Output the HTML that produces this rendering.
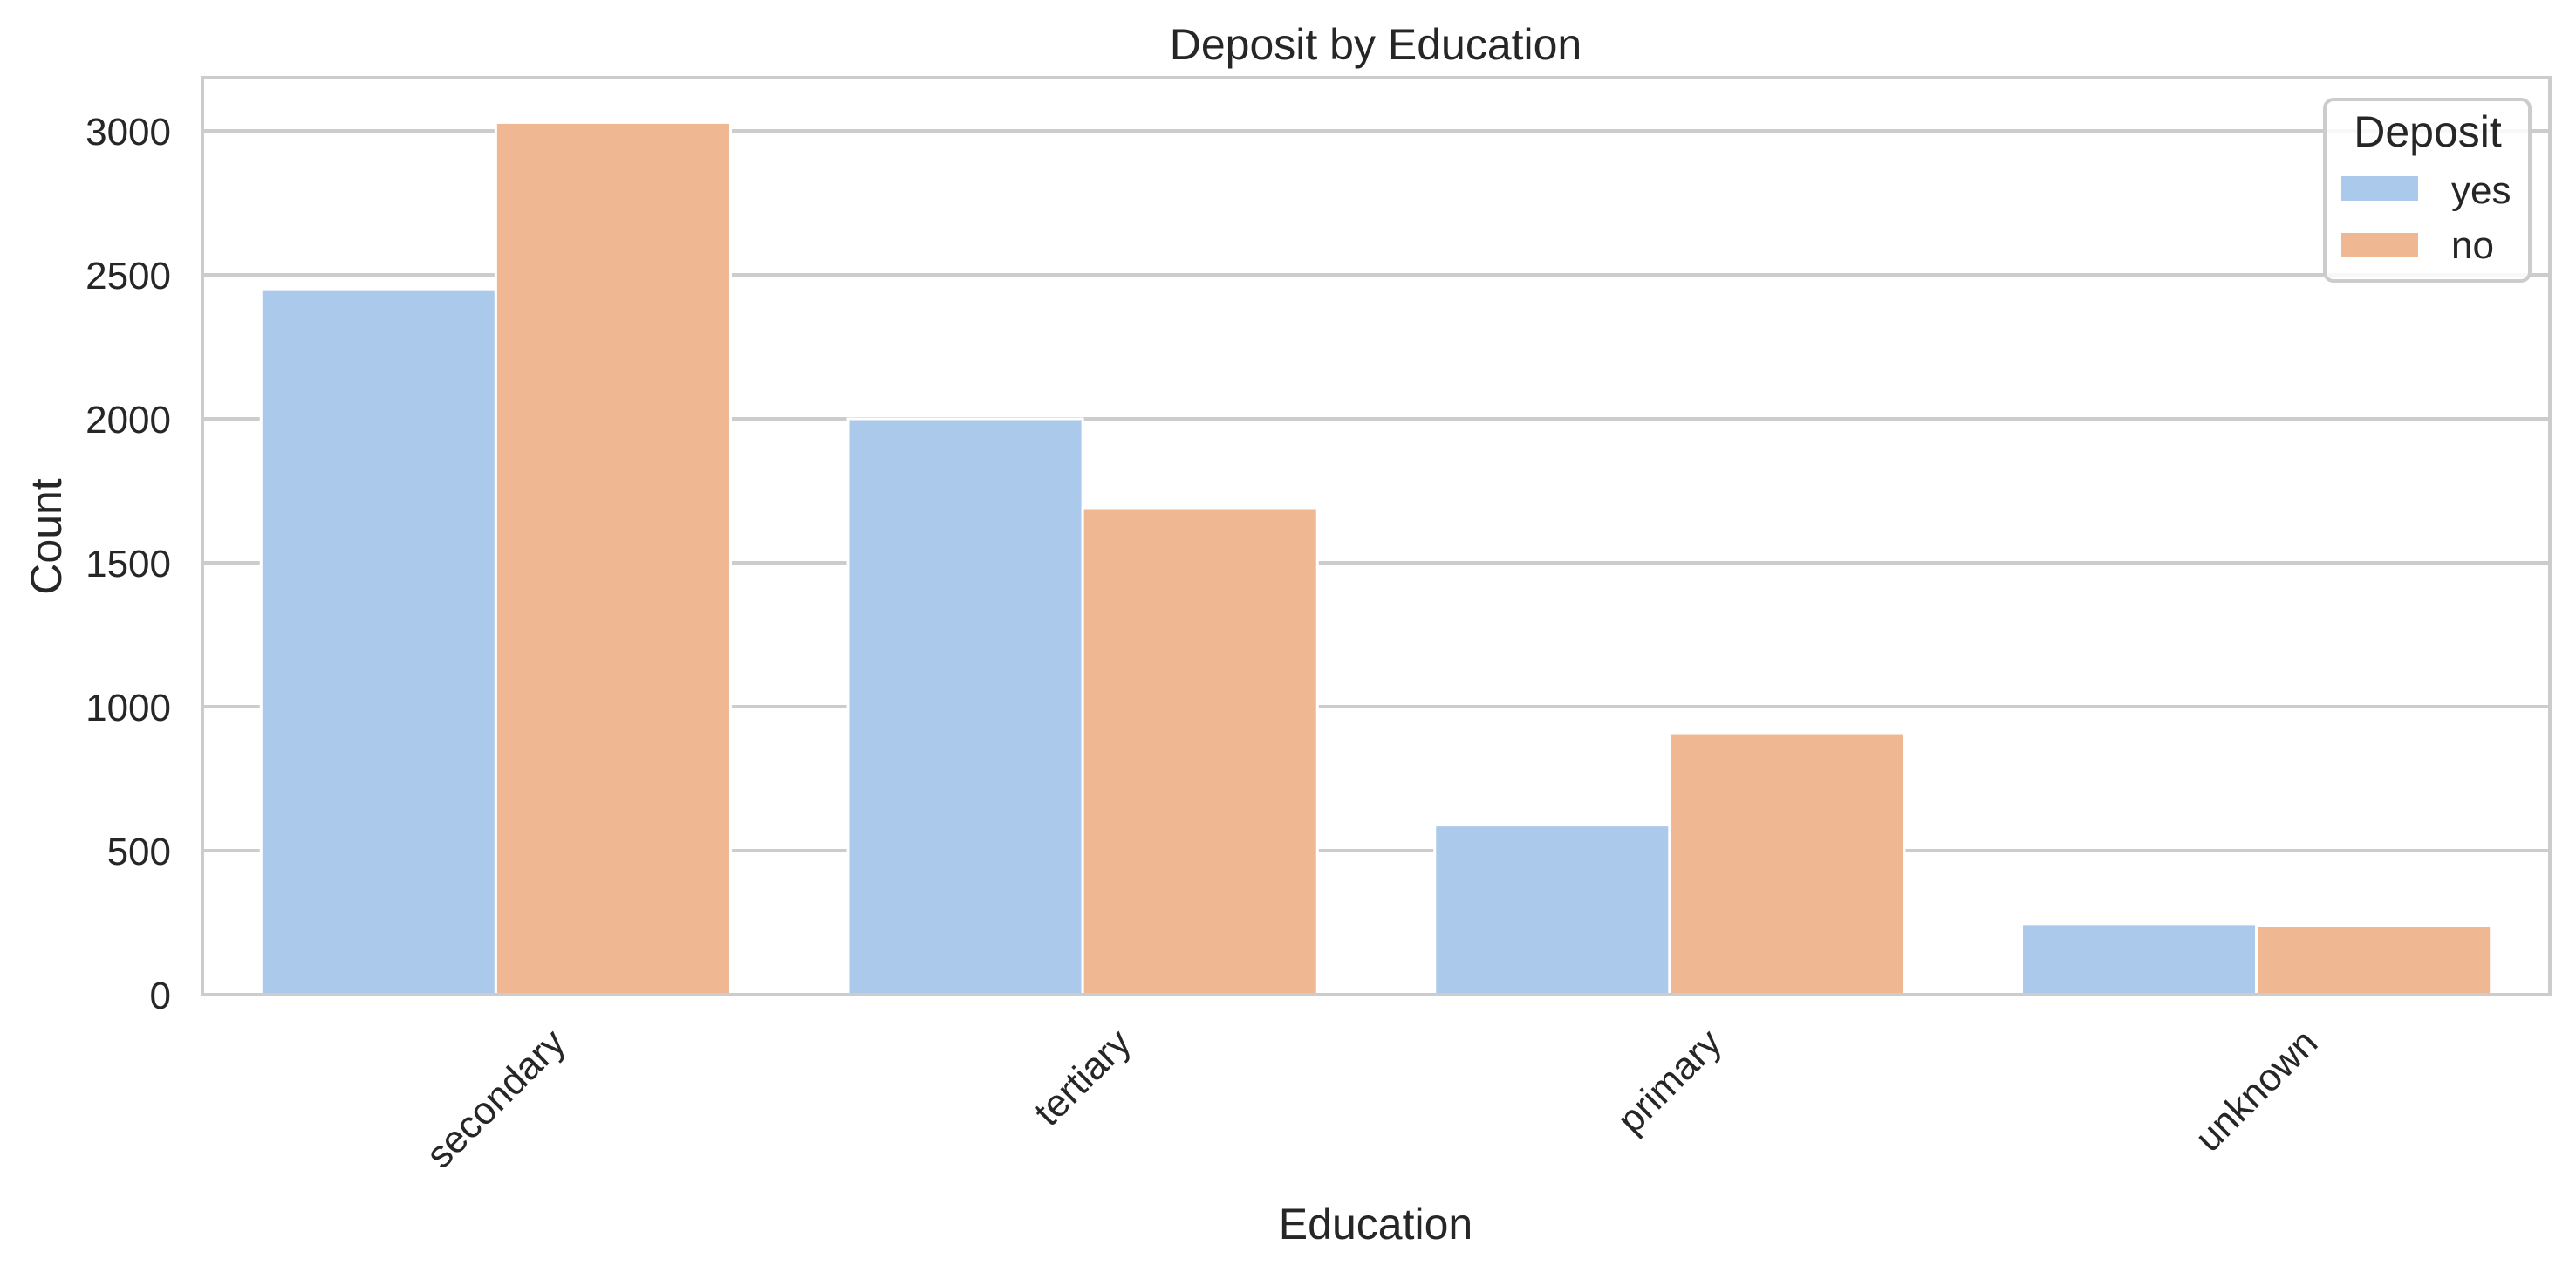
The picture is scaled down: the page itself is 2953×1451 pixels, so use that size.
<!DOCTYPE html>
<html><head><meta charset="utf-8"><style>
html,body{margin:0;padding:0;background:#fff;}
svg{display:block;font-family:"Liberation Sans",Arial,sans-serif;}
</style></head><body>
<svg id="chart" width="2953" height="1451" viewBox="0 0 2953 1451">
<rect x="0" y="0" width="2953" height="1451" fill="#fff"/>
<g id="grid"></g>
<g id="bars"></g>
<g id="xt"></g>
<g id="yt"></g>
<rect x="232" y="89" width="2691" height="1051" fill="none" stroke="#cccccc" stroke-width="4"/>
<text x="1577" y="68" font-size="50" fill="#262626" text-anchor="middle">Deposit by Education</text>
<text x="1577" y="1420" font-size="50" fill="#262626" text-anchor="middle">Education</text>
<text x="0" y="0" transform="translate(70,615) rotate(-90)" font-size="50" fill="#262626" text-anchor="middle">Count</text>
<g>
<rect x="2665" y="114" width="235" height="208" rx="10" fill="#fff" fill-opacity="0.85" stroke="#cccccc" stroke-width="4"/>
<text x="2783" y="168" font-size="50" fill="#262626" text-anchor="middle">Deposit</text>
<rect x="2684" y="202" width="88" height="28" fill="#abc9ea"/>
<text x="2810" y="233" font-size="44" fill="#262626">yes</text>
<rect x="2684" y="267" width="88" height="28" fill="#efb792"/>
<text x="2810" y="296" font-size="44" fill="#262626">no</text>
</g>
</svg>
<script>
const categories = ["secondary","tertiary","primary","unknown"];
const yesValues = [2451, 2000, 589, 246];
const noValues = [3029, 1691, 909, 240];
const yTicks = [0, 500, 1000, 1500, 2000, 2500, 3000];
const NS = "http://www.w3.org/2000/svg";
const L = 232, R = 2923, T = 89, B = 1140;
const band = (R - L) / categories.length;
function yScale(v){ return B - v * 165 / 500; }
function xCenter(i){ return L + band * (i + 0.5); }
function mk(tag, attrs, parent){ const e = document.createElementNS(NS, tag); for (const k in attrs) e.setAttribute(k, attrs[k]); document.getElementById(parent).appendChild(e); return e; }
yTicks.forEach(v => {
  const y = yScale(v);
  if (v > 0) {
    const g = mk('line', {x1: L, x2: R, y1: y, y2: y, stroke: '#cccccc', 'stroke-width': 4}, 'grid');
    
    
  }
  const t = mk('text', {x: 196, y: y + 16, 'font-size': 44, fill: '#262626', 'text-anchor': 'end'}, 'yt');
  t.textContent = v;
  
  
});
const bw = band * 0.4;
categories.forEach((c, i) => {
  const x0 = L + band * i + band * 0.1;
  const by = mk('rect', {x: x0, y: yScale(yesValues[i]), width: bw, height: B - yScale(yesValues[i]), fill: '#abc9ea', stroke: '#fff', 'stroke-width': 3}, 'bars');
  
  
  const bn = mk('rect', {x: x0 + bw, y: yScale(noValues[i]), width: bw, height: B - yScale(noValues[i]), fill: '#efb792', stroke: '#fff', 'stroke-width': 3}, 'bars');
  
  
  const t = mk('text', {x: 0, y: 0, 'font-size': 44, fill: '#262626', 'text-anchor': 'middle', 'dominant-baseline': 'central'}, 'xt');
  t.textContent = c;
  const w = t.getComputedTextLength();
  const half = (w + 44) / Math.SQRT2 / 2;
  t.setAttribute('transform', 'translate(' + xCenter(i) + ',' + (1172 + half) + ') rotate(-45)');
  
  
});
</script>
</body></html>
